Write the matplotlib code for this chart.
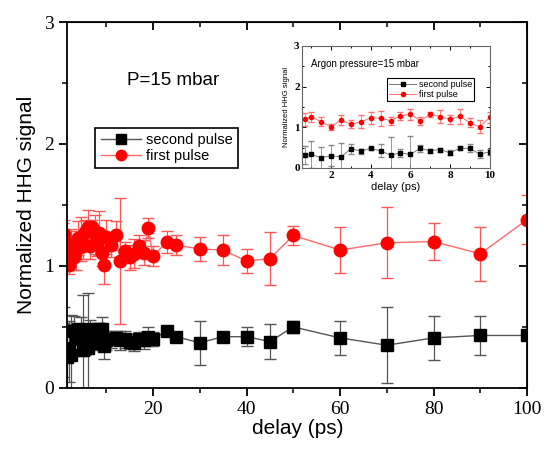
import numpy as np
import matplotlib
matplotlib.use("Agg")
from matplotlib import pyplot as plt
from matplotlib.lines import Line2D
from matplotlib.ticker import MultipleLocator

# inset: short delays (ps)
delay_short = [0.7, 1, 1.5, 2, 2.5, 3, 3.5, 4, 4.5, 5, 5.5, 6, 6.5, 7, 7.5, 8, 8.5, 9, 9.5, 10]
first_short = [1.19, 1.26, 1.13, 1.01, 1.18, 1.07, 1.13, 1.23, 1.22, 1.16, 1.28, 1.32, 1.16, 1.32, 1.26, 1.19, 1.27, 1.11, 1.01, 1.24]
first_short_err = [0.16, 0.12, 0.11, 0.08, 0.12, 0.10, 0.16, 0.14, 0.18, 0.10, 0.10, 0.14, 0.10, 0.06, 0.16, 0.11, 0.18, 0.11, 0.16, 0.14]
second_short = [0.31, 0.33, 0.25, 0.30, 0.27, 0.47, 0.41, 0.48, 0.42, 0.31, 0.37, 0.33, 0.48, 0.42, 0.45, 0.37, 0.48, 0.48, 0.34, 0.39]
second_short_err = [0.22, 0.33, 0.27, 0.25, 0.33, 0.12, 0.06, 0.03, 0.16, 0.45, 0.10, 0.45, 0.08, 0.05, 0.05, 0.06, 0.05, 0.10, 0.10, 0.08]

# extra points for longer delays (ps)
delay_long = [11, 12, 13, 14, 15, 16, 17, 18, 19, 20, 23, 25, 30, 35, 40, 45, 50, 60, 70, 80, 90, 100]
first_long = [1.17, 1.25, 1.04, 1.12, 1.07, 1.10, 1.16, 1.11, 1.31, 1.08, 1.20, 1.17, 1.14, 1.13, 1.04, 1.06, 1.25, 1.13, 1.19, 1.20, 1.10, 1.38]
first_long_err = [0.10, 0.12, 0.52, 0.08, 0.10, 0.12, 0.09, 0.10, 0.08, 0.08, 0.09, 0.08, 0.10, 0.12, 0.10, 0.22, 0.08, 0.19, 0.29, 0.15, 0.22, 0.20]
second_long = [0.40, 0.41, 0.39, 0.40, 0.38, 0.37, 0.40, 0.39, 0.42, 0.40, 0.47, 0.42, 0.37, 0.42, 0.42, 0.38, 0.50, 0.41, 0.35, 0.41, 0.43, 0.43]
second_long_err = [0.07, 0.06, 0.08, 0.07, 0.06, 0.07, 0.06, 0.07, 0.08, 0.06, 0.03, 0.04, 0.18, 0.02, 0.08, 0.14, 0.05, 0.14, 0.31, 0.18, 0.16, 0.0]

delay = delay_short + delay_long
first = first_short + first_long
first_err = first_short_err + first_long_err
second = second_short + second_long
second_err = second_short_err + second_long_err

serif = "Liberation Serif"
sans = "Liberation Sans"

fig = plt.figure(figsize=(5.44, 4.5), dpi=100)
ax = fig.add_axes([0.124, 0.138, 0.845, 0.813])

ax.errorbar(delay, second, yerr=second_err, color="#555555", ecolor="#555555",
            marker="s", mfc="black", mec="black", ms=8, lw=1, elinewidth=0.9,
            capsize=4)
ax.errorbar(delay, first, yerr=first_err, color="#ff6a6a", ecolor="#ff5555",
            marker="o", mfc="red", mec="red", ms=9, lw=1, elinewidth=0.9,
            capsize=4)

ax.set_xlim(1.7, 100)
ax.set_ylim(0, 3)
ax.xaxis.set_major_locator(MultipleLocator(20))
ax.xaxis.set_minor_locator(MultipleLocator(10))
ax.yaxis.set_major_locator(MultipleLocator(1))
ax.yaxis.set_minor_locator(MultipleLocator(0.5))
ax.tick_params(which="major", direction="out", length=6, width=1.3, labelsize=14)
ax.tick_params(which="minor", direction="out", length=3.5, width=1.1)
for lab in ax.get_xticklabels() + ax.get_yticklabels():
    lab.set_fontfamily(serif)
for s in ax.spines.values():
    s.set_linewidth(1.3)

# inward ticks on top and right
top = ax.secondary_xaxis("top")
top.xaxis.set_major_locator(MultipleLocator(20))
top.xaxis.set_minor_locator(MultipleLocator(10))
top.tick_params(which="major", direction="in", length=6, width=1.3, labeltop=False)
top.tick_params(which="minor", direction="in", length=3.5, width=1.1)
right = ax.secondary_yaxis("right")
right.yaxis.set_major_locator(MultipleLocator(1))
right.yaxis.set_minor_locator(MultipleLocator(0.5))
right.tick_params(which="major", direction="in", length=6, width=1.3, labelright=False)
right.tick_params(which="minor", direction="in", length=3.5, width=1.1)

ax.set_xlabel("delay (ps)", fontfamily=sans, fontsize=15, labelpad=1)
ax.set_ylabel("Normalized HHG signal", fontfamily=sans, fontsize=15, labelpad=6)
ax.text(14.5, 2.52, "P=15 mbar", fontfamily=sans, fontsize=13.5, va="center")

handles = [Line2D([], [], color="#555555", lw=1, marker="s", mfc="black", mec="black", ms=7),
           Line2D([], [], color="#ff6a6a", lw=1, marker="o", mfc="red", mec="red", ms=7.5)]
leg = ax.legend(handles, ["second pulse", "first pulse"], loc="upper left",
                bbox_to_anchor=(0.045, 0.73), prop={"family": sans, "size": 10.5},
                handlelength=2.8, borderpad=0.35, labelspacing=0.1, handletextpad=0.3,
                fancybox=False, framealpha=1, edgecolor="black")
leg.get_frame().set_linewidth(1.2)

# inset
axi = fig.add_axes([0.556, 0.627, 0.344, 0.271])
axi.errorbar(delay_short, second_short, yerr=second_short_err, color="#777777", ecolor="#888888",
             marker="s", mfc="black", mec="black", ms=2.5, lw=0.7, elinewidth=0.6,
             capsize=2)
axi.errorbar(delay_short, first_short, yerr=first_short_err, color="#ff7070", ecolor="#ff7070",
             marker="o", mfc="red", mec="red", ms=3, lw=0.7, elinewidth=0.6,
             capsize=2)
axi.set_xlim(0.55, 10)
axi.set_ylim(0, 3)
axi.xaxis.set_major_locator(MultipleLocator(2))
axi.xaxis.set_minor_locator(MultipleLocator(1))
axi.yaxis.set_major_locator(MultipleLocator(1))
axi.yaxis.set_minor_locator(MultipleLocator(0.5))
axi.tick_params(which="both", direction="in", top=True, right=True, width=0.7, labelsize=8, pad=2)
axi.tick_params(which="major", length=3)
axi.tick_params(which="minor", length=1.5)
for lab in axi.get_xticklabels() + axi.get_yticklabels():
    lab.set_fontfamily(serif)
    lab.set_fontweight("bold")
for s in axi.spines.values():
    s.set_linewidth(0.8)
    s.set_color("#666666")
axi.set_xlabel("delay (ps)", fontfamily=sans, fontsize=8, labelpad=2)
axi.set_ylabel("Normalized HHG signal", fontfamily=sans, fontsize=5.5, labelpad=3)
axi.text(1.0, 2.55, "Argon pressure=15 mbar", fontfamily=sans, fontsize=7, va="center")
handles_i = [Line2D([], [], color="#777777", lw=0.7, marker="s", mfc="black", mec="black", ms=2.5),
             Line2D([], [], color="#ff7070", lw=0.7, marker="o", mfc="red", mec="red", ms=3)]
legi = axi.legend(handles_i, ["second pulse", "first pulse"], loc="upper left",
                  bbox_to_anchor=(0.43, 0.77), prop={"family": sans, "size": 6.5},
                  handlelength=3, borderpad=0.2, labelspacing=0.05, handletextpad=0.3,
                  fancybox=False, framealpha=1, edgecolor="black")
legi.get_frame().set_linewidth(0.8)

fig.savefig("out.png", dpi=100)
